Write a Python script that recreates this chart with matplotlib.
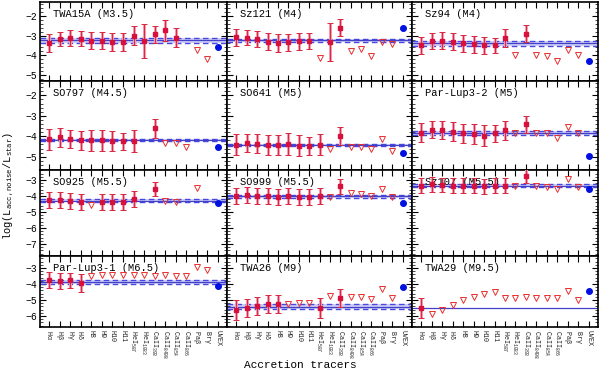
import numpy as np
import matplotlib
matplotlib.use('Agg')
import matplotlib.pyplot as plt
from matplotlib.ticker import MultipleLocator

plt.rcParams['font.family'] = ['Liberation Mono', 'DejaVu Sans Mono']
plt.rcParams['mathtext.fontset'] = 'custom'
plt.rcParams['mathtext.rm'] = 'Liberation Mono'
plt.rcParams['mathtext.it'] = 'Liberation Mono'

# tracer names (x axis)
tracers = [r'H$\alpha$', r'H$\beta$', r'H$\gamma$', r'H$\delta$', 'H8', 'H9', 'H10', 'H11',
           r'HeI$_{587}$', r'HeI$_{1083}$', r'CaII$_{393}$', r'CaII$_{8498}$', r'CaII$_{854}$',
           r'CaII$_{866}$', r'Pa$\beta$', r'Br$\gamma$', 'UVEX']

names = ['TWA15A (M3.5)', 'Sz121 (M4)', 'Sz94 (M4)',
         'SO797 (M4.5)', 'SO641 (M5)', 'Par-Lup3-2 (M5)',
         'SO925 (M5.5)', 'SO999 (M5.5)', 'Sz107 (M5.5)',
         'Par-Lup3-1 (M6.5)', 'TWA26 (M9)', 'TWA29 (M9.5)']

# detections: (tracer index, value, error)
det_twa15a = [(0, -3.37, 0.45), (1, -3.17, 0.37), (2, -3.12, 0.40), (3, -3.15, 0.40), (4, -3.26, 0.43),
              (5, -3.27, 0.43), (6, -3.32, 0.47), (7, -3.32, 0.45), (8, -3.00, 0.46), (9, -3.27, 0.85),
              (10, -2.93, 0.44), (11, -2.74, 0.52), (12, -3.10, 0.50)]
det_sz121 = [(0, -3.09, 0.43), (1, -3.11, 0.38), (2, -3.19, 0.41), (3, -3.31, 0.43), (4, -3.37, 0.45),
             (5, -3.34, 0.42), (6, -3.29, 0.43), (7, -3.27, 0.41), (9, -3.32, 0.95), (10, -2.61, 0.43)]
det_sz94 = [(0, -3.50, 0.45), (1, -3.26, 0.40), (2, -3.26, 0.43), (3, -3.32, 0.43), (4, -3.40, 0.44),
            (5, -3.45, 0.45), (6, -3.50, 0.45), (7, -3.50, 0.39), (8, -3.14, 0.45), (10, -2.91, 0.43)]
det_so797 = [(0, -4.15, 0.50), (1, -4.06, 0.45), (2, -4.14, 0.45), (3, -4.19, 0.47), (4, -4.20, 0.50),
             (5, -4.20, 0.50), (6, -4.22, 0.50), (7, -4.25, 0.43), (8, -4.22, 0.53), (10, -3.62, 0.47)]
det_so641 = [(0, -4.41, 0.52), (1, -4.33, 0.44), (2, -4.37, 0.46), (3, -4.45, 0.49), (4, -4.45, 0.49),
             (5, -4.38, 0.53), (6, -4.46, 0.51), (7, -4.50, 0.44), (8, -4.41, 0.53), (10, -3.98, 0.43)]
det_parlup32 = [(0, -3.83, 0.46), (1, -3.68, 0.42), (2, -3.70, 0.44), (3, -3.78, 0.46), (4, -3.86, 0.46),
                (5, -3.89, 0.49), (6, -3.98, 0.51), (7, -3.86, 0.42), (8, -3.70, 0.46), (10, -3.41, 0.41)]
det_so925 = [(0, -4.25, 0.50), (1, -4.25, 0.50), (2, -4.30, 0.50), (3, -4.40, 0.50), (5, -4.40, 0.50),
             (6, -4.35, 0.50), (7, -4.35, 0.50), (8, -4.20, 0.50), (10, -3.55, 0.45)]
det_so999 = [(0, -4.00, 0.50), (1, -3.95, 0.50), (2, -4.00, 0.50), (3, -4.00, 0.50), (4, -4.05, 0.50),
             (5, -4.00, 0.50), (6, -4.05, 0.50), (7, -4.05, 0.50), (8, -4.00, 0.50), (10, -3.40, 0.45)]
det_sz107 = [(0, -3.35, 0.45), (1, -3.28, 0.45), (2, -3.30, 0.45), (3, -3.35, 0.45), (4, -3.35, 0.45),
             (5, -3.35, 0.45), (6, -3.40, 0.45), (7, -3.35, 0.45), (8, -3.35, 0.45), (10, -2.75, 0.45)]
det_parlup31 = [(0, -3.75, 0.50), (1, -3.84, 0.50), (2, -3.78, 0.45), (3, -3.92, 0.55)]
det_twa26 = [(0, -5.63, 0.63), (1, -5.52, 0.55), (2, -5.36, 0.57), (3, -5.27, 0.57), (4, -5.25, 0.57),
             (8, -5.48, 0.63), (10, -4.86, 0.55)]
det_twa29 = [(0, -5.52, 0.62)]

# upper limits: (tracer index, value)
lim_twa15a = [(14, -3.73), (15, -4.17)]
lim_sz121 = [(8, -4.12), (11, -3.79), (12, -3.70), (13, -4.03), (14, -3.34), (15, -3.45)]
lim_sz94 = [(9, -3.97), (11, -3.97), (12, -4.03), (13, -4.28), (14, -3.74), (15, -3.97)]
lim_so797 = [(11, -4.35), (12, -4.35), (13, -4.54)]
lim_so641 = [(9, -4.63), (11, -4.51), (12, -4.51), (13, -4.63), (14, -4.15), (15, -4.71)]
lim_parlup32 = [(9, -3.86), (11, -3.86), (12, -3.86), (13, -4.07), (14, -3.55), (15, -3.83)]
lim_so925 = [(4, -4.55), (11, -4.30), (12, -4.35), (14, -3.50)]
lim_so999 = [(9, -4.05), (11, -3.80), (12, -3.85), (13, -4.00), (14, -3.55), (15, -4.05)]
lim_sz107 = [(9, -3.40), (11, -3.40), (12, -3.45), (13, -3.55), (14, -2.95), (15, -3.45)]
lim_parlup31 = [(4, -3.50), (5, -3.45), (6, -3.45), (7, -3.42), (8, -3.45), (9, -3.45), (10, -3.48),
                (11, -3.45), (12, -3.50), (13, -3.50), (14, -2.95), (15, -3.12)]
lim_twa26 = [(5, -5.27), (6, -5.17), (7, -5.21), (9, -4.75), (11, -4.79), (12, -4.83), (13, -4.94),
             (14, -4.31), (15, -4.89)]
lim_twa29 = [(1, -5.86), (2, -5.63), (3, -5.31), (4, -5.00), (5, -4.79), (6, -4.63), (7, -4.52),
             (8, -4.86), (9, -4.86), (10, -4.83), (11, -4.89), (12, -4.89), (13, -4.89), (14, -4.42),
             (15, -5.00)]

# UV excess value
uvex = [-3.59, -2.60, -4.31, -4.54, -4.80, -4.95, -4.45, -4.45, -3.55, -4.10, -4.17, -4.42]

# noise level: mean, low, high (None = no dashed)
noise = [(-3.24, -3.37, -3.12), (-3.24, -3.32, -3.16), (-3.39, -3.54, -3.26),
         (-4.19, -4.23, -4.15), (-4.41, -4.46, -4.37), (-3.85, -3.92, -3.76),
         (-4.30, -4.38, -4.22), (-4.02, -4.10, -3.95), (-3.35, -3.42, -3.28),
         (-3.88, -3.97, -3.78), (-5.42, -5.54, -5.27), (-5.52, None, None)]

dets = [det_twa15a, det_sz121, det_sz94, det_so797, det_so641, det_parlup32,
        det_so925, det_so999, det_sz107, det_parlup31, det_twa26, det_twa29]
lims = [lim_twa15a, lim_sz121, lim_sz94, lim_so797, lim_so641, lim_parlup32,
        lim_so925, lim_so999, lim_sz107, lim_parlup31, lim_twa26, lim_twa29]

row_ylim = [(-5.3, -1.3), (-5.65, -1.3), (-7.75, -2.38), (-6.69, -2.25)]
row_edges = [2, 81, 170, 256, 327]   # pixels from top
col_edges = [40, 227, 412, 598]

W, H = 600, 371
fig = plt.figure(figsize=(W / 100, H / 100), dpi=100)

axes = []
for r in range(4):
    for c in range(3):
        x0 = col_edges[c] / W
        w = (col_edges[c + 1] - col_edges[c]) / W
        y0 = 1 - row_edges[r + 1] / H
        h = (row_edges[r + 1] - row_edges[r]) / H
        ax = fig.add_axes([x0, y0, w, h])
        axes.append(ax)

x = np.arange(len(tracers))
for i, ax in enumerate(axes):
    r, c = divmod(i, 3)
    m, lo, hi = noise[i]
    if lo is not None:
        ax.axhspan(lo, hi, color='#b0b0f0', alpha=0.6, lw=0, zorder=1)
        ax.axhline(lo, color='#4848e0', lw=1.0, ls=(0, (4, 2.5)), zorder=2)
        ax.axhline(hi, color='#4848e0', lw=1.0, ls=(0, (4, 2.5)), zorder=2)
    ax.axhline(m, color='#4040c8', lw=0.9, zorder=2)

    d = dets[i]
    if d:
        xi = [t[0] for t in d]
        yv = [t[1] for t in d]
        ev = [t[2] for t in d]
        ax.errorbar(xi, yv, yerr=ev, fmt='none', ecolor='#f49ab0', elinewidth=2.2, zorder=3)
        ax.errorbar(xi, yv, yerr=ev, fmt='s', color='#d8103c', ms=3.2, ecolor='#d82840',
                    elinewidth=0.7, capsize=2, capthick=0.7, zorder=4)
    l = lims[i]
    if l:
        ax.plot([t[0] for t in l], [t[1] for t in l], 'v', mfc='none', mec='#e83030',
                ms=4, mew=0.7, zorder=4)
    ax.plot([16], [uvex[i]], 'o', color='#0010e0', ms=4, zorder=5)

    ax.text(13 / 186, 1 - 12 / (row_edges[r + 1] - row_edges[r]), names[i],
            transform=ax.transAxes, fontsize=7.5, va='center', ha='left')

    ax.set_xlim(-0.9, 16.9)
    ax.set_ylim(*row_ylim[r])
    ax.set_xticks(x)
    ax.yaxis.set_major_locator(MultipleLocator(1))
    ax.yaxis.set_minor_locator(MultipleLocator(0.2))
    ax.tick_params(direction='in', top=True, right=True, length=4, width=0.8)
    ax.tick_params(axis='y', pad=2, labelsize=7)
    ax.tick_params(axis='x', pad=2.5, labelsize=4.9, labelcolor='#222222')
    ax.tick_params(which='minor', direction='in', left=True, right=True, length=2, width=0.5)
    if r == 3:
        ax.set_xticklabels(tracers, rotation=-90)
    else:
        ax.set_xticklabels([])
    if c != 0:
        ax.set_yticklabels([])
    for s in ax.spines.values():
        s.set_linewidth(1.2)

fig.text(0.014, 0.5, r'log(L$_{acc,noise}$/L$_{star}$)', rotation=90, fontsize=7.5,
         va='center', ha='center')
fig.text(0.5, 1.5 / H, 'Accretion tracers', fontsize=8, ha='center', va='bottom')

fig.savefig('out.png', dpi=100)
